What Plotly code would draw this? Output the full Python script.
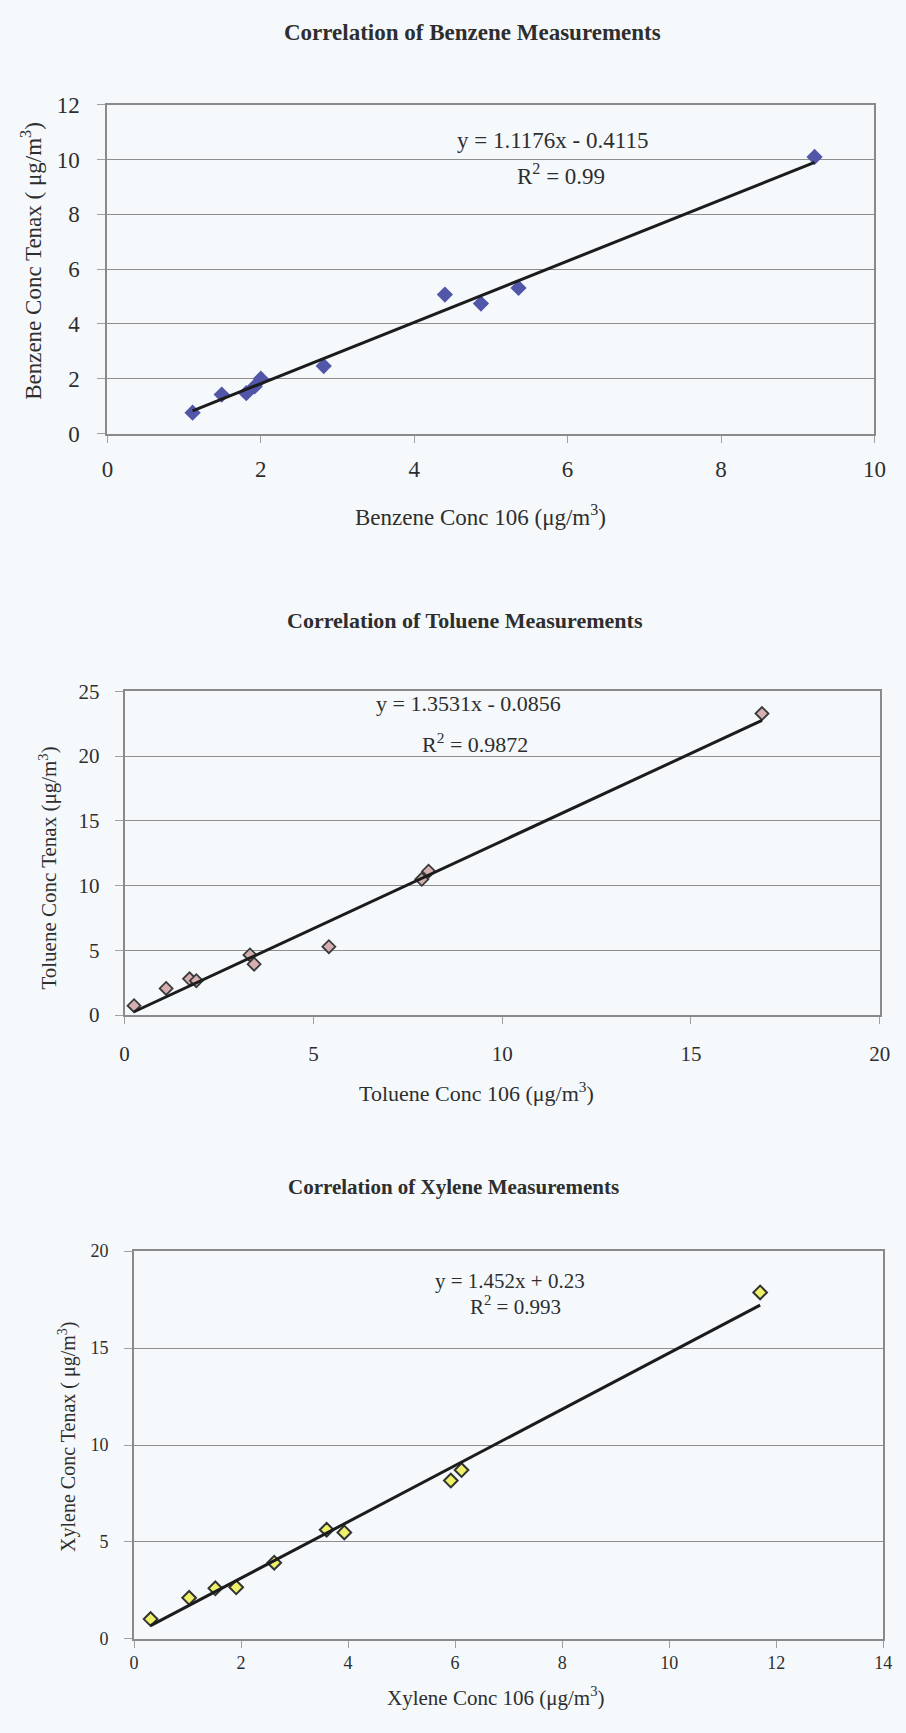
import numpy as np
import plotly.graph_objects as go

W, H = 906, 1733

# ---------------- data ----------------
benzene_106 = [1.11, 1.49, 1.81, 1.92, 2.00, 2.82, 4.40, 4.87, 5.36, 9.22]
benzene_tenax = [0.76, 1.42, 1.47, 1.72, 2.00, 2.46, 5.07, 4.74, 5.31, 10.09]
benzene_slope, benzene_icpt = 1.1176, -0.4115

toluene_106 = [0.25, 1.10, 1.72, 1.90, 3.32, 3.43, 5.41, 7.87, 8.05, 16.88]
toluene_tenax = [0.72, 2.05, 2.80, 2.65, 4.64, 3.93, 5.28, 10.48, 11.11, 23.29]
toluene_slope, toluene_icpt = 1.3531, -0.0856

xylene_106 = [0.31, 1.03, 1.52, 1.91, 2.62, 3.60, 3.93, 5.92, 6.12, 11.70]
xylene_tenax = [1.02, 2.12, 2.61, 2.66, 3.93, 5.63, 5.49, 8.17, 8.71, 17.87]
xylene_slope, xylene_icpt = 1.452, 0.23

benzene_xticks = [0, 2, 4, 6, 8, 10]
benzene_yticks = [0, 2, 4, 6, 8, 10, 12]
toluene_xticks = [0, 5, 10, 15, 20]
toluene_yticks = [0, 5, 10, 15, 20, 25]
xylene_xticks = [0, 2, 4, 6, 8, 10, 12, 14]
xylene_yticks = [0, 5, 10, 15, 20]

# ---------------- style ----------------
SERIF = "Liberation Serif, Times New Roman, serif"
BG = "#f5f9fc"
TXT = "#2e2e2e"
AXIS = "#8a8a8a"
GRID = "#8e8e8e"


def px_x(p):
    return p / W


def px_y(p):
    return 1 - p / H


# plot-area pixel boxes (left, right, top, bottom)
boxes = [
    (103.5, 886.0, 94.0, 427.7),
    (121.0, 891.5, 689.3, 1017.7),
    (130.6, 895.0, 1257.3, 1650.7),
]

fig = go.Figure()


def add_panel(i, xs, ys, slope, icpt, marker):
    xa = "x" if i == 0 else f"x{i+1}"
    ya = "y" if i == 0 else f"y{i+1}"
    fig.add_trace(go.Scatter(x=xs, y=ys, mode="markers", marker=marker,
                             xaxis=xa, yaxis=ya, showlegend=False))
    xl = np.array([min(xs), max(xs)])
    fig.add_trace(go.Scatter(x=xl, y=slope * xl + icpt, mode="lines",
                             line=dict(color="#1c1c1c", width=3),
                             xaxis=xa, yaxis=ya, showlegend=False))


add_panel(0, benzene_106, benzene_tenax, benzene_slope, benzene_icpt,
          dict(symbol="diamond", size=12.5, color="#5256a8",
               line=dict(width=0)))
add_panel(1, toluene_106, toluene_tenax, toluene_slope, toluene_icpt,
          dict(symbol="diamond", size=10, color="#d6b0b0",
               line=dict(width=1.8, color="#3a3a3a")))
add_panel(2, xylene_106, xylene_tenax, xylene_slope, xylene_icpt,
          dict(symbol="diamond", size=10.5, color="#eef06a",
               line=dict(width=2, color="#333333")))

specs = [
    (benzene_xticks, benzene_yticks, 23, 7, 13),
    (toluene_xticks, toluene_yticks, 21, 12, 11),
    (xylene_xticks, xylene_yticks, 18, 0, 12),
]

layout = dict(width=W, height=H, autosize=False,
              margin=dict(l=0, r=0, t=0, b=0),
              paper_bgcolor=BG, plot_bgcolor=BG, showlegend=False)

for i, ((l, r, t, b), (xt, yt, fs, xso, yso)) in enumerate(zip(boxes, specs)):
    sx = "" if i == 0 else str(i + 1)
    layout["xaxis" + sx] = dict(
        domain=[px_x(l), px_x(r)], anchor="y" + sx,
        range=[xt[0], xt[-1]], tickvals=xt, ticktext=[str(v) for v in xt],
        showgrid=False, zeroline=False, showline=True, linecolor=AXIS,
        linewidth=2, mirror=True, ticks="outside", ticklen=7,
        tickcolor="#a0a0a0", tickwidth=1,
        tickfont=dict(family=SERIF, size=fs, color=TXT),
        ticklabelstandoff=xso, fixedrange=True)
    layout["yaxis" + sx] = dict(
        domain=[px_y(b), px_y(t)], anchor="x" + sx,
        range=[yt[0], yt[-1]], tickvals=yt, ticktext=[str(v) for v in yt],
        showgrid=True, gridcolor=GRID, gridwidth=1.3, zeroline=False,
        showline=True, linecolor=AXIS, linewidth=2, mirror=True,
        ticks="outside", ticklen=8, tickcolor="#a0a0a0", tickwidth=1,
        tickfont=dict(family=SERIF, size=fs, color=TXT),
        ticklabelstandoff=yso, fixedrange=True)

fig.update_layout(**layout)


def ann(text, x, y, size, bold=False, angle=0, family=SERIF):
    if bold:
        text = f"<b>{text}</b>"
    fig.add_annotation(text=text, x=px_x(x), y=px_y(y), xref="paper",
                       yref="paper", showarrow=False, textangle=angle,
                       xanchor="center", yanchor="middle",
                       font=dict(family=family, size=size, color=TXT))


# chart titles
ann("Correlation of Benzene Measurements", 476, 21, 23, bold=True)
ann("Correlation of Toluene Measurements", 468, 617, 22, bold=True)
ann("Correlation of Xylene Measurements", 457, 1192, 21, bold=True)

# axis titles
ann("Benzene Conc 106 (μg/m<sup>3</sup>)", 484, 511, 23)
ann("Benzene Conc Tenax ( μg/m<sup>3</sup>)", 26, 252, 23, angle=-90)
ann("Toluene Conc 106 (μg/m<sup>3</sup>)", 480, 1096, 22)
ann("Toluene Conc Tenax (μg/m<sup>3</sup>)", 43, 869, 21, angle=-90)
ann("Xylene Conc 106 (μg/m<sup>3</sup>)", 499, 1709, 21)
ann("Xylene Conc Tenax ( μg/m<sup>3</sup>)", 62, 1446, 20, angle=-90)

# trend-line equations
ann(f"y = {benzene_slope}x - {abs(benzene_icpt)}", 558, 130, 23)
ann("R<sup>2</sup> = 0.99", 566, 165, 23)
ann(f"y = {toluene_slope}x - {abs(toluene_icpt)}", 472, 702, 22)
ann("R<sup>2</sup> = 0.9872", 478, 742, 22)
ann(f"y = {xylene_slope}x + {xylene_icpt}", 514, 1288, 21)
ann("R<sup>2</sup> = 0.993", 520, 1312, 21)

fig.write_html("out.html")
